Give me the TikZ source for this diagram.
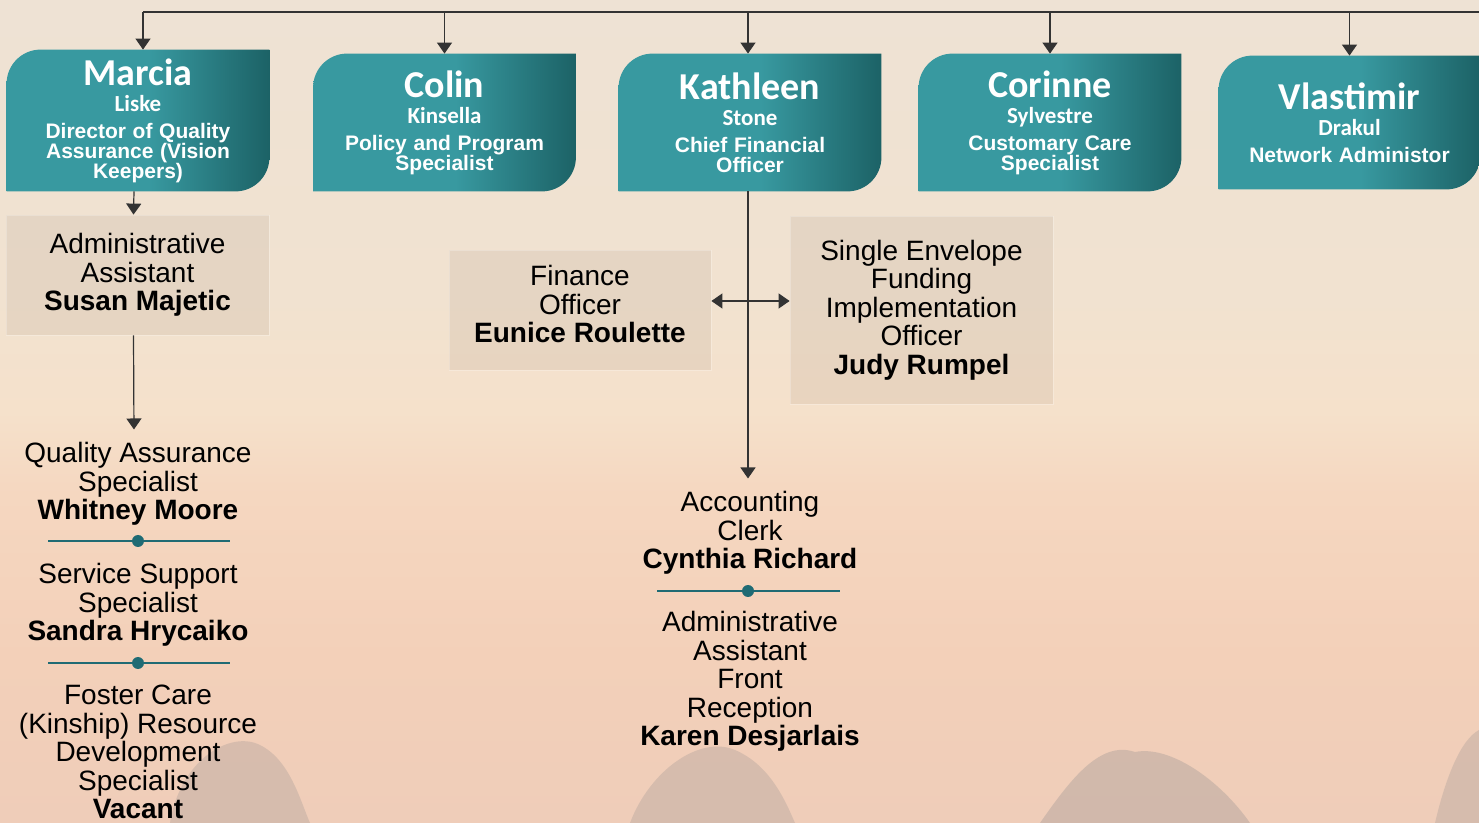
\documentclass[tikz,border=0pt]{standalone}
\usepackage{fontspec}
\setmainfont{Liberation Sans}
\newfontfamily\hdrfont{Carlito}
\usetikzlibrary{arrows.meta,backgrounds}

\definecolor{tealA}{HTML}{3899A0}
\definecolor{tealB}{HTML}{1C6266}
\definecolor{septeal}{HTML}{1F6B74}
\definecolor{linegray}{HTML}{333333}
\definecolor{treegray}{HTML}{8C8A8C}
\definecolor{skyA}{HTML}{EEE2D4}
\definecolor{skyB}{HTML}{F1E2D0}
\definecolor{skyC}{HTML}{F5E1CB}
\definecolor{skyD}{HTML}{F5D7C0}
\definecolor{skyE}{HTML}{F3D0B9}
\definecolor{skyF}{HTML}{EFCDB9}

\pgfdeclarehorizontalshading{hdrshade}{100bp}{color(0bp)=(tealA); color(25bp)=(tealA); color(52bp)=(tealA); color(75bp)=(tealB); color(100bp)=(tealB)}
\pgfdeclareverticalshading{skyshade}{100bp}{color(0bp)=(skyF); color(25bp)=(skyF); color(35bp)=(skyE); color(45bp)=(skyD); color(50bp)=(skyC); color(57bp)=(skyB); color(75bp)=(skyA); color(100bp)=(skyA)}

\lineskiplimit=-20pt

% header box: rounded top left and bottom right only
\newcommand{\hdrshape}[1]{\shade[shading=hdrshade] (#1.north east) -- ([yshift=17pt]#1.south east) arc[start angle=0,end angle=-90,radius=17pt] -- (#1.south west) -- ([yshift=-17pt]#1.north west) arc[start angle=180,end angle=90,radius=17pt] -- cycle;}
\newcommand{\hdrtext}[3]{\lineskiplimit=-20pt\lineskip=0pt{\hdrfont\bfseries\fontsize{19}{20}\selectfont #1\par}{\hdrfont\bfseries\fontsize{11.5}{13}\selectfont #2\par}\vspace{3.5pt}{\bfseries\fontsize{10.5}{10}\selectfont #3\par}}

\begin{document}
\begin{tikzpicture}[x=0.5pt,y=-0.5pt,
    hdr/.style={inner sep=0pt,minimum width=131pt,minimum height=68.5pt,text width=128pt,align=center,text=white},
    subbox/.style={fill=black!60!brown,fill opacity=0.07,text opacity=1,draw=white,draw opacity=0.25,inner sep=0pt,minimum width=131.5pt,minimum height=60pt,align=center,font=\fontsize{14}{14.2}\selectfont},
    plain/.style={align=center,font=\fontsize{14}{14.2}\selectfont},
    conn/.style={draw=linegray,line width=0.6pt},
    arr/.style={conn,-{Triangle[width=7.5pt,length=5.5pt]}},
    dblarr/.style={conn,{Triangle[width=7.5pt,length=5.5pt]}-{Triangle[width=7.5pt,length=5.5pt]}},
    sepline/.style={draw=septeal,line width=1pt}]
        \useasboundingbox (0,0) rectangle (1479,823);

        \node[hdr,minimum height=70.5pt] (marcia) at (138,120.5) {\hdrtext{Marcia}{Liske}{Director of Quality\\Assurance (Vision\\Keepers)}};
        \node[hdr] (colin) at (444.5,122.5) {\hdrtext{Colin}{Kinsella}{Policy and Program\\Specialist}};
        \node[hdr] (kathleen) at (750,122.5) {\hdrtext{Kathleen}{Stone}{Chief Financial\\Officer}};
        \node[hdr] (corinne) at (1050,122.5) {\hdrtext{Corinne}{Sylvestre}{Customary Care\\Specialist}};
        \node[hdr,minimum height=66.5pt,minimum width=130.5pt] (vlastimir) at (1349.5,122.5) {\hdrtext{Vlastimir}{Drakul}{Network Administor}};

        \node[subbox] (susan) at (137.5,275) {Administrative\\Assistant\\\textbf{Susan Majetic}};
        \node[subbox,minimum width=131pt,text depth=6pt] (eunice) at (580,310) {Finance\\Officer\\\textbf{Eunice Roulette}};
        \node[subbox,minimum height=94pt] (judy) at (921.5,310) {Single Envelope\\Funding\\Implementation\\Officer\\\textbf{Judy Rumpel}};

        \node[plain] (whitney) at (138,484) {Quality Assurance\\Specialist\\\textbf{Whitney Moore}};
        \node[plain] (sandra) at (138,605) {Service Support\\Specialist\\\textbf{Sandra Hrycaiko}};
        \node[plain] (foster) at (138,752) {Foster Care\\(Kinship) Resource\\Development\\Specialist\\\textbf{Vacant}};
        \node[plain] (cynthia) at (750,533) {Accounting\\Clerk\\\textbf{Cynthia Richard}};
        \node[plain] (karen) at (750,681.5) {Administrative\\Assistant\\Front\\Reception\\\textbf{Karen Desjarlais}};

        \coordinate (topL) at (143,12);
        \coordinate (topR) at (1479,12);

        \begin{scope}[on background layer]
            \shade[shading=skyshade] (0,0) rectangle (1479,823);
            % faint trees along the bottom edge
            \fill[treegray,opacity=0.25] (170,823) .. controls (180,760) and (230,730) .. (260,745) .. controls (290,760) and (300,800) .. (310,823) -- cycle;
            \fill[treegray,opacity=0.25] (630,823) .. controls (650,770) and (700,735) .. (735,750) .. controls (770,765) and (785,800) .. (795,823) -- cycle;
            \fill[treegray,opacity=0.3] (1040,823) .. controls (1070,780) and (1100,740) .. (1135,752) .. controls (1170,745) and (1220,780) .. (1250,823) -- cycle;
            \fill[treegray,opacity=0.25] (1435,823) .. controls (1445,780) and (1460,740) .. (1479,730) -- (1479,823) -- cycle;
            \hdrshape{marcia}
            \hdrshape{colin}
            \hdrshape{kathleen}
            \hdrshape{corinne}
            \hdrshape{vlastimir}
        \end{scope}

        \draw[conn] (topL) -- (topR);
        \draw[arr] (topL) -- (topL |- marcia.north);
        \draw[arr] (colin.north |- topL) -- (colin.north);
        \draw[arr] ([xshift=-1pt]kathleen.north |- topL) -- ([xshift=-1pt]kathleen.north);
        \draw[arr] (corinne.north |- topL) -- (corinne.north);
        \draw[arr] (vlastimir.north |- topL) -- (vlastimir.north);

        \draw[arr] ([xshift=-2pt]marcia.south) -- ([xshift=-2pt]susan.north);
        \draw[arr,shorten >=3pt] ([xshift=-2pt]susan.south) -- ([xshift=-2pt]whitney.north);
        \draw[arr,shorten >=3pt] ([xshift=-1pt]kathleen.south) -- ([xshift=-1pt]cynthia.north);
        \draw[dblarr] ([yshift=4.5pt]eunice.east) -- ([yshift=4.5pt]eunice.east -| judy.west);

        \draw[sepline] (48,541) -- (230,541);
        \fill[septeal] (138,541) circle (3pt);
        \draw[sepline] (48,663) -- (230,663);
        \fill[septeal] (138,663) circle (3pt);
        \draw[sepline] (657,591) -- (840,591);
        \fill[septeal] (748,591) circle (3pt);
\end{tikzpicture}
\end{document}
